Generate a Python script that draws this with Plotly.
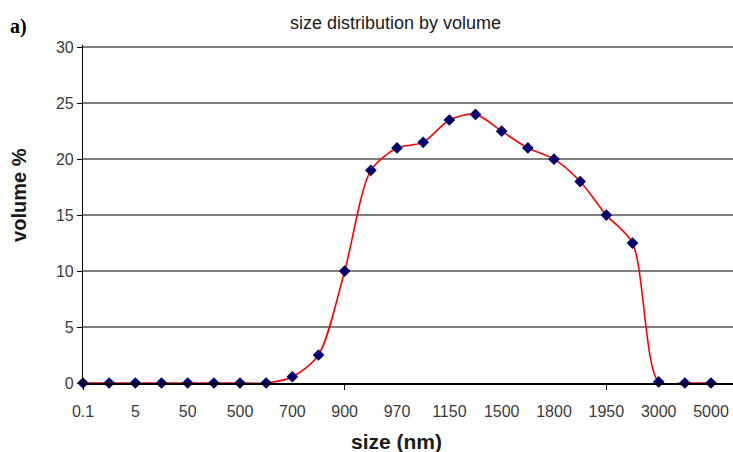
import plotly.graph_objects as go

categories = ["0.1", "1", "5", "10", "50", "100", "500", "600", "700", "800",
              "900", "950", "970", "1050", "1150", "1300", "1500", "1650", "1800",
              "1900", "1950", "2500", "3000", "4000", "5000"]
volume = [0, 0, 0, 0, 0, 0, 0, 0, 0.56, 2.5, 10, 19, 21, 21.5, 23.5, 24, 22.5,
          21, 20, 18, 15, 12.5, 0.1, 0, 0]
tick_labels = ["0.1", "5", "50", "500", "700", "900", "970", "1150", "1500",
               "1800", "1950", "3000", "5000"]
y_ticks = [0, 5, 10, 15, 20, 25, 30]
minor_tick_idx = [0, 10, 20]

font = "Liberation Sans, Arial, sans-serif"
x_range = [0, 24.84]

fig = go.Figure()
fig.add_trace(go.Scatter(
    x=categories, y=volume, mode="lines+markers",
    line=dict(color="#ff0000", width=1.6, shape="spline", smoothing=0.8),
    marker=dict(symbol="diamond", size=9, color="#00006e"),
    cliponaxis=False, showlegend=False))

fig.update_layout(
    width=733, height=452,
    margin=dict(l=83, r=0, t=45, b=69),
    paper_bgcolor="white", plot_bgcolor="white",
    font=dict(family=font, size=16, color="#3a3a3a"),
    xaxis=dict(type="category", categoryorder="array", categoryarray=categories,
               range=x_range, tickmode="array", tickvals=tick_labels,
               ticktext=tick_labels, ticks="", ticklabelstandoff=17,
               showgrid=False, showline=False, zeroline=False),
    xaxis2=dict(overlaying="x", anchor="y", side="bottom", range=x_range,
                tickmode="array", tickvals=minor_tick_idx, ticks="outside",
                ticklen=5, tickcolor="#000000", showticklabels=False,
                showgrid=False, showline=True, linecolor="#000000", linewidth=1.5,
                zeroline=False),
    yaxis=dict(range=[0, 30.2], tickmode="array", tickvals=y_ticks,
               ticks="outside", ticklen=5, tickcolor="#000000",
               showline=True, linecolor="#000000", linewidth=1.2,
               showgrid=True, gridcolor="#7f7f7f", gridwidth=2,
               zeroline=False),
    annotations=[
        dict(text="size distribution by volume", xref="paper", yref="paper",
             x=0.48, y=1.0, yshift=34, showarrow=False,
             font=dict(family=font, size=18, color="#1a1a1a")),
        dict(text="<b>a)</b>", xref="paper", yref="paper", x=-0.10, y=1.0,
             yshift=32, xanchor="center", showarrow=False,
             font=dict(family="Liberation Serif, Times New Roman, serif", size=20,
                       color="#000000")),
        dict(text="<b>size (nm)</b>", xref="paper", yref="paper",
             x=0.483, y=-0.1726, xanchor="center", yanchor="middle",
             showarrow=False, font=dict(family=font, size=21, color="#1a1a1a")),
        dict(text="<b>volume %</b>", xref="paper", yref="paper",
             x=-0.0985, y=0.5565, xanchor="center", yanchor="middle",
             textangle=-90, showarrow=False,
             font=dict(family=font, size=20, color="#1a1a1a")),
    ])
fig.add_trace(go.Scatter(x=[None], y=[None], xaxis="x2", showlegend=False))

fig.write_html("out.html")
